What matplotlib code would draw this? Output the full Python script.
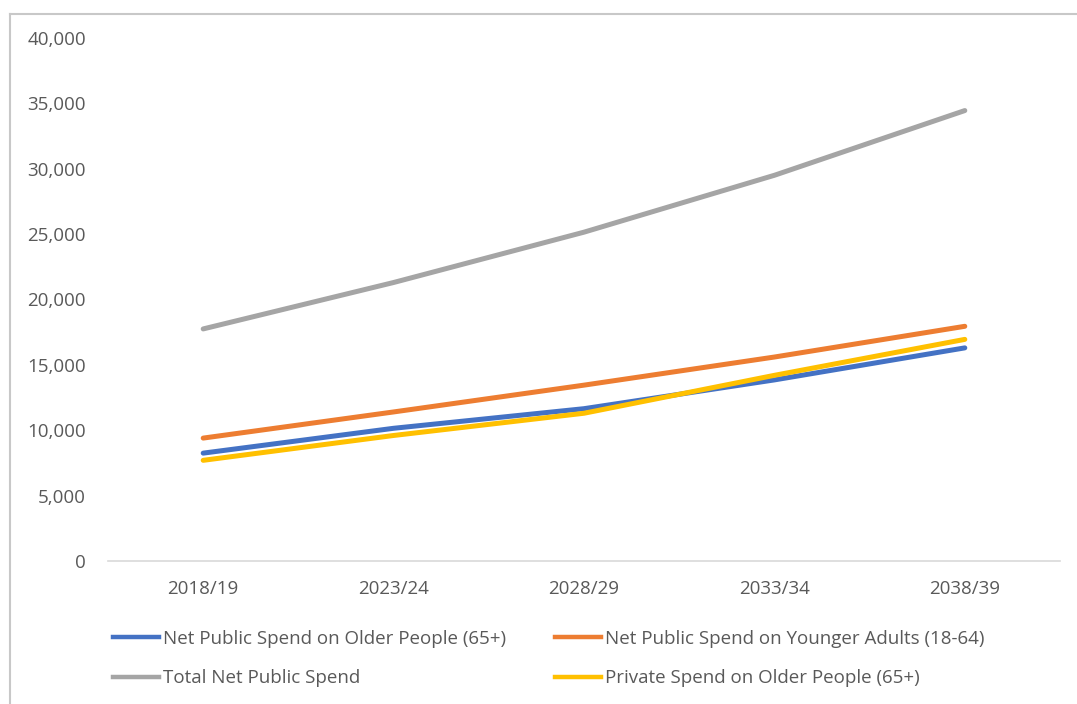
import matplotlib.pyplot as plt
from matplotlib.lines import Line2D
from matplotlib.ticker import FuncFormatter

plt.rcParams['font.family'] = ['Open Sans', 'DejaVu Sans']

years = ['2018/19', '2023/24', '2028/29', '2033/34', '2038/39']
older_public = [8250, 10150, 11650, 13850, 16300]
younger_public = [9400, 11400, 13450, 15600, 17950]
total_public = [17750, 21300, 25150, 29500, 34450]
older_private = [7700, 9600, 11300, 14200, 16950]

series = [
    ('Net Public Spend on Older People (65+)', older_public, '#4472C4'),
    ('Net Public Spend on Younger Adults (18-64)', younger_public, '#ED7D31'),
    ('Total Net Public Spend', total_public, '#A5A5A5'),
    ('Private Spend on Older People (65+)', older_private, '#FFC000'),
]

W, H = 1077, 704
fig = plt.figure(figsize=(W / 100, H / 100), dpi=100)
ax = fig.add_axes([108 / W, 1 - 561 / H, (1060 - 108) / W, (561 - 38) / H])

x = range(len(years))
for name, vals, col in series:
    ax.plot(x, vals, color=col, linewidth=3.6, solid_capstyle='round', solid_joinstyle='round')

ax.set_xlim(-0.5, len(years) - 0.5)
ax.set_ylim(0, 40000)
ax.set_yticks(range(0, 40001, 5000))
ax.yaxis.set_major_formatter(FuncFormatter(lambda v, p: f'{int(v):,}'))
ax.set_xticks(list(x))
ax.set_xticklabels(years)
ax.tick_params(axis='both', length=0, colors='#595959', labelsize=13.5)
ax.tick_params(axis='y', pad=16)
ax.tick_params(axis='x', pad=14)
for s in ['top', 'right', 'left']:
    ax.spines[s].set_visible(False)
ax.spines['bottom'].set_color('#D9D9D9')
ax.spines['bottom'].set_linewidth(1.2)

# legend: fill row by row like the original (matplotlib fills columns first)
order = [0, 2, 1, 3]
handles = [Line2D([], [], color=series[i][2], linewidth=3.2) for i in order]
labels = [series[i][0] for i in order]
fig.legend(handles, labels, ncol=2, loc='upper left', bbox_to_anchor=(96 / W, 1 - 613 / H),
           frameon=False, fontsize=13.5, labelcolor='#595959', handlelength=2.45,
           handletextpad=0.2, columnspacing=2.65, labelspacing=1.15)

# outer chart border (top and left visible)
fig.add_artist(Line2D([10 / W, 10 / W], [0, 1 - 14 / H], color='#C8C8C8', linewidth=1.5))
fig.add_artist(Line2D([10 / W, 1], [1 - 14 / H, 1 - 14 / H], color='#C8C8C8', linewidth=1.5))

fig.savefig('out.png', dpi=100)
